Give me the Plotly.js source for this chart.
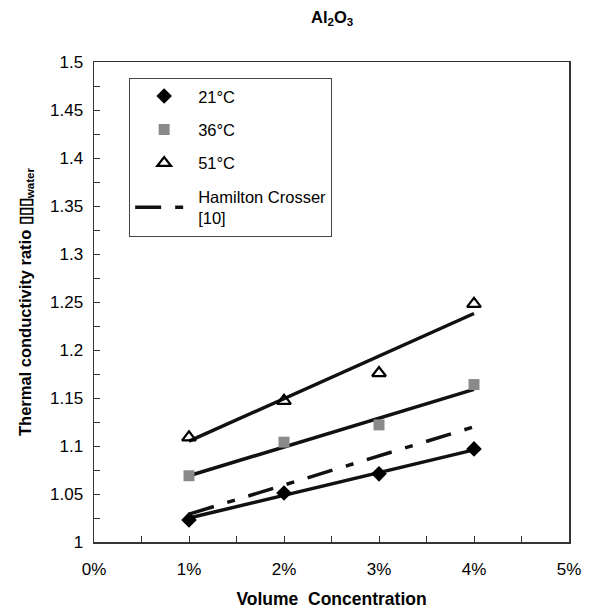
<!DOCTYPE html>
<html>
<head>
<meta charset="utf-8">
<script src="https://cdn.plot.ly/plotly-3.0.1.min.js"></script>
<style>html,body{margin:0;padding:0;background:#fff;}#chart{width:591px;height:611px;}</style>
</head>
<body>
<div id="chart"></div>
<script>
// Data
const concentration = [0.01, 0.02, 0.03, 0.04];
const k21 = [1.023, 1.051, 1.071, 1.097];
const k36 = [1.069, 1.104, 1.122, 1.164];
const k51 = [1.109, 1.147, 1.176, 1.248];

// Trend-line end points
const fitX = [0.01, 0.04];
const fit21 = [1.025, 1.096];
const fit36 = [1.069, 1.159];
const fit51 = [1.105, 1.238];
const hamiltonCrosser = [1.029, 1.120];

const seriesNames = ["21°C", "36°C", "51°C", "Hamilton Crosser<br>[10]"];

const xTickVals = [0, 0.01, 0.02, 0.03, 0.04, 0.05];
const xTickText = ["0%", "1%", "2%", "3%", "4%", "5%"];
const yTickVals = [1, 1.05, 1.1, 1.15, 1.2, 1.25, 1.3, 1.35, 1.4, 1.45, 1.5];
const yTickText = ["1", "1.05", "1.1", "1.15", "1.2", "1.25", "1.3", "1.35", "1.4", "1.45", "1.5"];

const FONT = "Liberation Sans, Arial, sans-serif";
const lineStyle = {color: "#111", width: 3.5};

const traces = [
  {x: fitX, y: fit21, mode: "lines", line: lineStyle, showlegend: false, hoverinfo: "skip"},
  {x: fitX, y: fit36, mode: "lines", line: lineStyle, showlegend: false, hoverinfo: "skip"},
  {x: fitX, y: fit51, mode: "lines", line: lineStyle, showlegend: false, hoverinfo: "skip"},
  {x: concentration, y: k21, mode: "markers", name: seriesNames[0], legendgroup: "a",
   marker: {symbol: "diamond", size: 12, color: "#000"}},
  {x: concentration, y: k36, mode: "markers", name: seriesNames[1], legendgroup: "b",
   marker: {symbol: "square", size: 11, color: "#8a8a8a"}},
  {x: concentration, y: k51, mode: "markers", name: seriesNames[2], legendgroup: "c",
   marker: {symbol: "triangle-up-open", size: 12, color: "#000", line: {width: 2.2, color: "#000"}}},
  {x: fitX, y: hamiltonCrosser, mode: "lines", name: seriesNames[3], legendgroup: "d",
   line: {color: "#111", width: 3.5, dash: "26px,14px,8px,14px"}}
];

const axisCommon = {
  showline: true, mirror: true, linecolor: "#333", linewidth: 1.5,
  ticks: "inside", ticklen: 6, tickcolor: "#333", tickwidth: 1,
  showgrid: false, zeroline: false,
  tickfont: {family: FONT, size: 17, color: "#000"}
};

const layout = {
  width: 591, height: 611,
  margin: {l: 94, r: 22, t: 62, b: 69},
  paper_bgcolor: "#fff", plot_bgcolor: "#fff",
  title: {text: "<b>Al<sub>2</sub>O<sub>3</sub></b>", x: 0.562, xanchor: "center",
          y: 0.972, yanchor: "middle", yref: "container",
          font: {family: FONT, size: 16.5, color: "#000"}},
  xaxis: Object.assign({}, axisCommon, {
    range: [0, 0.05], tickvals: xTickVals, ticktext: xTickText,
    ticklabelstandoff: 11,
    minor: {dtick: 0.005, ticks: "inside", ticklen: 6, tickcolor: "#333"},
    title: {text: "<b>Volume  Concentration</b>", standoff: 15,
            font: {family: FONT, size: 17.5, color: "#000"}}
  }),
  yaxis: Object.assign({}, axisCommon, {
    range: [1, 1.5], tickvals: yTickVals, ticktext: yTickText,
    ticklabelstandoff: 6,
    minor: {dtick: 0.025, ticks: "inside", ticklen: 6, tickcolor: "#333"},
    title: {text: "<b>Thermal conductivity ratio ▯▯▯<sub>water</sub></b>", standoff: 14,
            font: {family: FONT, size: 16.5, color: "#000"}}
  }),
  legend: {
    x: 0.074, y: 0.967, xanchor: "left", yanchor: "top",
    bgcolor: "#fff", bordercolor: "#444", borderwidth: 1,
    font: {family: FONT, size: 16.5, color: "#000"},
    tracegroupgap: 9, itemwidth: 58
  },
  showlegend: true
};

Plotly.newPlot("chart", traces, layout, {displayModeBar: false, staticPlot: true});
</script>
</body>
</html>
